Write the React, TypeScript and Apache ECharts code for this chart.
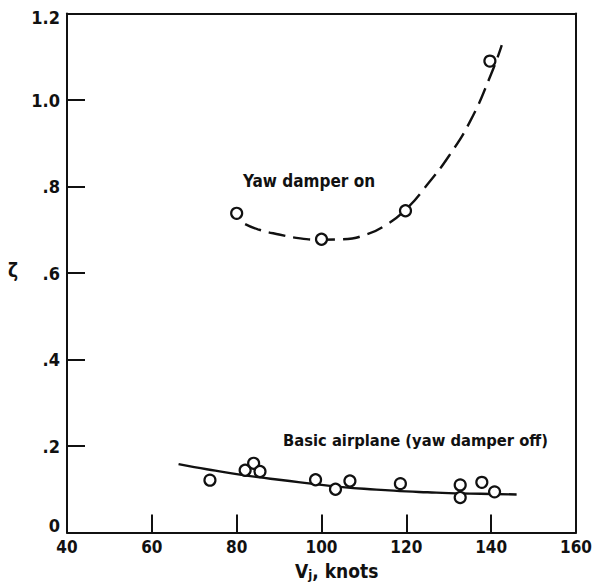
import React, { useEffect, useRef } from "react";
import * as echarts from "echarts";

// Measured damping ratio, yaw damper on
const dampOnV = [80, 100, 119.8, 139.7];
const dampOnZeta = [0.738, 0.678, 0.744, 1.09];

// Faired curve through the yaw-damper-on data
const dampOnFitV = [82, 85, 90, 95, 100, 105, 110, 115, 120, 125, 130, 135, 140, 142.5];
const dampOnFitZeta = [0.713, 0.701, 0.689, 0.68, 0.677, 0.678, 0.687, 0.71, 0.748, 0.805, 0.87, 0.95, 1.06, 1.127];

// Measured damping ratio, basic airplane (yaw damper off)
const basicV = [73.7, 82, 84, 85.5, 98.6, 103.3, 106.7, 118.6, 132.7, 132.7, 137.8, 140.8];
const basicZeta = [0.121, 0.144, 0.16, 0.141, 0.122, 0.1, 0.119, 0.113, 0.11, 0.081, 0.116, 0.094];

// Faired curve through the basic-airplane data
const basicFitV = [66.3, 70, 75, 80, 85, 90, 95, 100, 105, 110, 115, 120, 125, 130, 135, 140, 146];
const basicFitZeta = [0.158, 0.151, 0.143, 0.135, 0.128, 0.122, 0.116, 0.11, 0.105, 0.101, 0.098, 0.095, 0.093, 0.091, 0.09, 0.089, 0.088];

const xTicks = { min: 40, max: 160, interval: 20 };
const yTicks = { min: 0, max: 1.2, interval: 0.2 };

const FONT = "'DejaVu Sans Condensed', 'DejaVu Sans', sans-serif";
const INK = "#111";

const zip = (xs: number[], ys: number[]) => xs.map((x, i) => [x, ys[i]]);

function formatZeta(v: number): string {
  if (Math.abs(v) < 1e-9) return "{zero|0}";
  const s = v.toFixed(1);
  if (Math.abs(v - 1.2) < 1e-9) return "{top|" + s + "}";
  return s.startsWith("0") ? s.slice(1) : s;
}

export default function App() {
  const ref = useRef<HTMLDivElement>(null);

  useEffect(() => {
    if (!ref.current) return;
    const chart = echarts.init(ref.current, null, { renderer: "svg" });

    const circle = {
      symbol: "circle",
      symbolSize: 11,
      itemStyle: { color: "#fff", borderColor: INK, borderWidth: 2.2, opacity: 1 },
    };

    const line = { show: true, onZero: false, lineStyle: { color: INK, width: 2 } };
    const tick = () => ({ show: true, inside: true, length: 18, lineStyle: { color: INK, width: 2 } });
    const labelBase = { color: INK, fontFamily: FONT, fontWeight: "bold" as const };
    // plain axes on the top and right close the frame
    const frameAxis = {
      type: "value",
      axisLine: line,
      axisTick: { show: false },
      axisLabel: { show: false },
      splitLine: { show: false },
    };

    chart.setOption({
      animation: false,
      backgroundColor: "#fff",
      grid: { left: 67, right: 19, top: 13.5, bottom: 55.5, show: false },
      xAxis: [
        {
          type: "value",
          position: "bottom",
          ...xTicks,
          axisLine: line,
          axisTick: tick(),
          splitLine: { show: false },
          axisLabel: { ...labelBase, fontSize: 17, margin: 6 },
          z: 5,
        },
        { ...frameAxis, position: "top", ...xTicks },
      ],
      yAxis: [
        {
          type: "value",
          position: "left",
          ...yTicks,
          axisLine: line,
          axisTick: tick(),
          splitLine: { show: false },
          axisLabel: {
            ...labelBase,
            fontSize: 18,
            margin: 7,
            formatter: formatZeta,
            rich: {
              zero: { ...labelBase, fontSize: 18, padding: [0, 0, 14, 0] },
              top: { ...labelBase, fontSize: 18, padding: [7, 0, 0, 0] },
            },
          },
          z: 5,
        },
        { ...frameAxis, position: "right", ...yTicks },
      ],
      series: [
        {
          type: "line",
          data: zip(dampOnFitV, dampOnFitZeta),
          smooth: true,
          showSymbol: false,
          lineStyle: { color: INK, width: 2.4, type: [17, 8] },
          z: 2,
        },
        {
          type: "line",
          data: zip(basicFitV, basicFitZeta),
          smooth: true,
          showSymbol: false,
          lineStyle: { color: INK, width: 2.4 },
          z: 2,
        },
        { type: "scatter", data: zip(dampOnV, dampOnZeta), ...circle, z: 3 },
        { type: "scatter", data: zip(basicV, basicZeta), ...circle, z: 3 },
      ],
      graphic: [
        {
          type: "text",
          left: 243,
          top: 172,
          style: { text: "Yaw damper on", font: `bold 17px ${FONT}`, fill: INK },
        },
        {
          type: "text",
          left: 283,
          top: 432,
          style: { text: "Basic airplane (yaw damper off)", font: `bold 16.4px ${FONT}`, fill: INK },
        },
        {
          type: "text",
          left: 8,
          top: 260,
          style: { text: "ζ", font: `bold 19px ${FONT}`, fill: INK },
        },
        {
          type: "text",
          left: 295,
          top: 561,
          style: {
            text: "V{sub|j}, knots",
            font: `bold 19px ${FONT}`,
            fill: INK,
            rich: {
              sub: { fontSize: 13, fontFamily: FONT, fontWeight: "bold", fill: INK, verticalAlign: "bottom", padding: [8, 0, 0, 0] },
            },
          },
        },
      ],
    });

    return () => chart.dispose();
  }, []);

  return (
    <div
      ref={ref}
      style={{ position: "fixed", left: 0, top: 0, width: 595, height: 588 }}
    />
  );
}
